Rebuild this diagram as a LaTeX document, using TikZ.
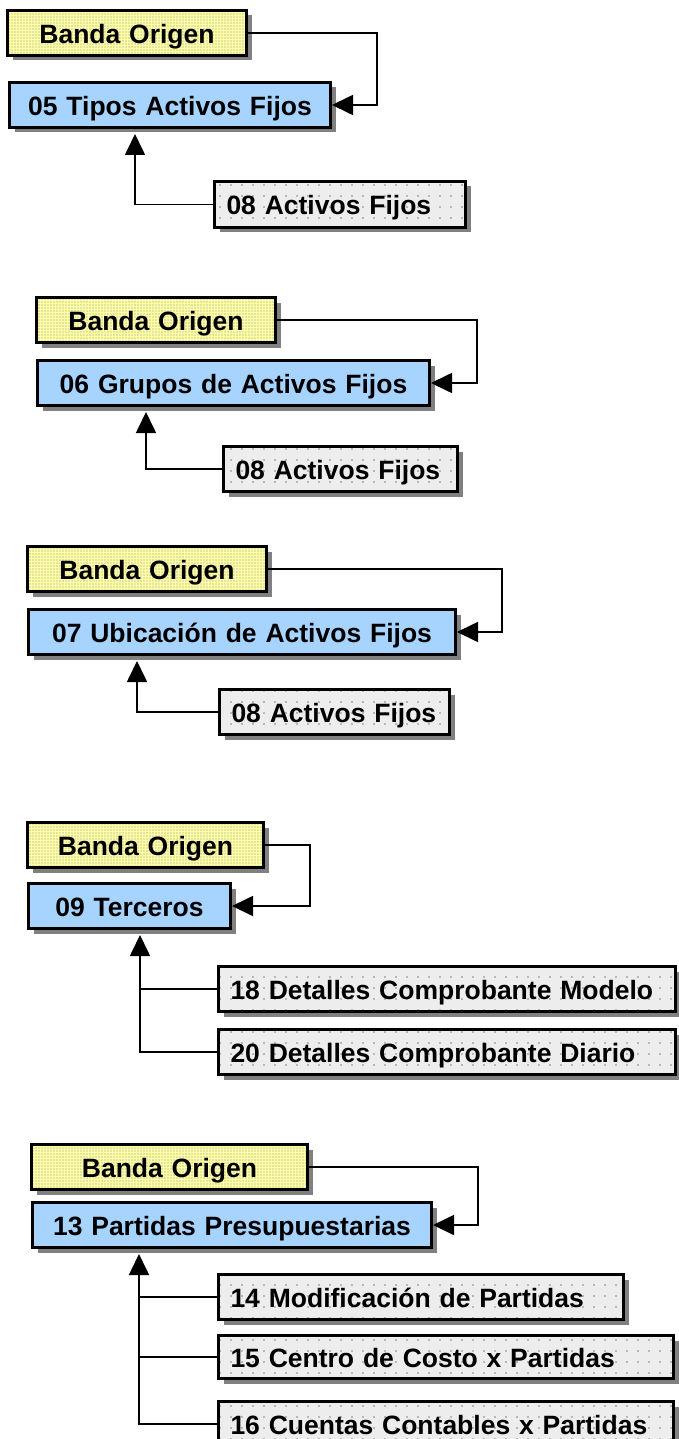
\documentclass[tikz,border=0pt]{standalone}
\usepackage{fontspec}
\setmainfont{Liberation Sans}
\usetikzlibrary{arrows.meta,patterns.meta,shadows,calc}
\definecolor{bandy}{HTML}{FFFFA6}
\definecolor{tblue}{HTML}{A6D4FF}
\definecolor{dgray}{HTML}{EDEDED}
\definecolor{shad}{HTML}{808080}
\begin{document}
\begin{tikzpicture}[x=1pt,y=1pt,
 box/.style={draw=black, line width=3pt, anchor=north west, inner xsep=12pt, inner ysep=0pt,
   minimum height=45pt, text height=23pt, text depth=2.5pt,
   font=\bfseries\fontsize{26.5}{30}\selectfont,
   drop shadow={shadow xshift=5pt, shadow yshift=-5pt, fill=shad, opacity=1}},
 banda/.style={box, preaction={fill=bandy}, pattern={Dots[distance=3pt,radius=0.65pt]}, pattern color=black!45, align=center},
 tabla/.style={box, fill=tblue, align=center},
 hija/.style={box, preaction={fill=dgray}, pattern={Dots[distance=11pt,radius=0.9pt]}, pattern color=black!50, align=left},
 conn/.style={line width=1.7pt, draw=black},
 arr/.style={conn, -{Triangle[length=21pt,width=20pt]}},
]
\useasboundingbox (0,0) rectangle (678,-1439);

% Block 1
\node[banda, text width=215pt] (B1) at (6,-9) {Banda Origen};
\node[tabla, text width=297pt] (T1) at (8,-81) {05 Tipos Activos Fijos};
\node[hija, text width=227pt, minimum height=46pt] (A1) at (213,-180) {08 Activos Fijos};
\coordinate (r1) at (377,0); \coordinate (u1) at (135,0);
\draw[arr] (B1.east) -| (r1 |- T1.east) -- (T1.east);
\draw[arr, shorten >=5pt] (A1.west) -| (u1 |- T1.south);

% Block 2
\node[banda, text width=215pt] (B2) at (35,-296) {Banda Origen};
\node[tabla, text width=368pt] (T2) at (36,-359) {06 Grupos de Activos Fijos};
\node[hija, text width=210pt] (A2) at (222,-445) {08 Activos Fijos};
\coordinate (r2) at (477,0); \coordinate (u2) at (146,0);
\draw[arr] (B2.east) -| (r2 |- T2.east) -- (T2.east);
\draw[arr, shorten >=5pt] (A2.west) -| (u2 |- T2.south);

% Block 3
\node[banda, text width=215pt] (B3) at (26,-545) {Banda Origen};
\node[tabla, text width=403pt] (T3) at (27,-608) {07 Ubicación de Activos Fijos};
\node[hija, text width=206pt] (A3) at (218,-688) {08 Activos Fijos};
\coordinate (r3) at (502,0); \coordinate (u3) at (137,0);
\draw[arr] (B3.east) -| (r3 |- T3.east) -- (T3.east);
\draw[arr, shorten >=5pt] (A3.west) -| (u3 |- T3.south);

% Block 4
\node[banda, text width=212pt] (B4) at (26,-821) {Banda Origen};
\node[tabla, text width=178pt] (T4) at (27,-882) {09 Terceros};
\node[hija, text width=433pt] (D18) at (217,-965) {18 Detalles Comprobante Modelo};
\node[hija, text width=433pt] (D20) at (217,-1028) {20 Detalles Comprobante Diario};
\coordinate (r4) at (310,0); \coordinate (u4) at (140,0);
\draw[arr] (B4.east) -| (r4 |- T4.east) -- (T4.east);
\draw[arr, shorten >=5pt] (D20.west) -| (u4 |- T4.south);
\draw[conn] (D18.west) -- (u4 |- D18.west);

% Block 5
\node[banda, text width=252pt] (B5) at (30,-1143) {Banda Origen};
\node[tabla, text width=375pt] (T5) at (31,-1201) {13 Partidas Presupuestarias};
\node[hija, text width=381pt] (M14) at (217,-1273) {14 Modificación de Partidas};
\node[hija, text width=431pt, minimum height=43pt] (C15) at (217,-1334) {15 Centro de Costo x Partidas};
\node[hija, text width=431pt] (C16) at (217,-1400) {16 Cuentas Contables x Partidas};
\coordinate (r5) at (478,0); \coordinate (u5) at (139,0);
\draw[arr] (B5.east) -| (r5 |- T5.east) -- (T5.east);
\draw[arr, shorten >=5pt] (C16.west) -| (u5 |- T5.south);
\draw[conn] (M14.west) -- (u5 |- M14.west);
\draw[conn] (C15.west) -- (u5 |- C15.west);
\end{tikzpicture}
\end{document}
